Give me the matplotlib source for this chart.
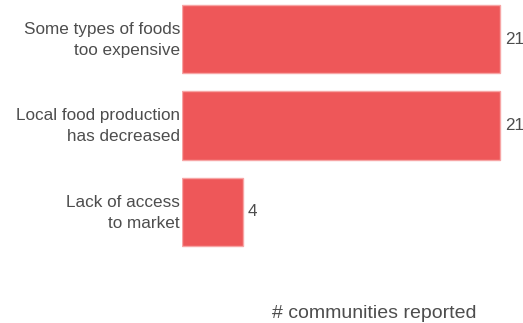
import matplotlib.pyplot as plt
import matplotlib.transforms as mtransforms

categories = ["Some types of foods\ntoo expensive",
              "Local food production\nhas decreased",
              "Lack of access\nto market"]
values = [21, 21, 4]

plt.rcParams['font.family'] = ['Liberation Sans', 'DejaVu Sans']

fig = plt.figure(figsize=(5.23, 3.23), dpi=100)
ax = fig.add_axes([182/523, 33/323, 341/523, 290/323])

pos = list(range(len(values)))
ax.barh(pos, values, height=0.79, color='#ee5759', edgecolor='#f7a5a5', linewidth=1)

for p, v in zip(pos, values):
    ax.text(v + 0.35, p, str(v), va='center', ha='left', fontsize=12.3, color='#4d4d4d')

# category labels, nudged to sit like the original
lab_tr = ax.get_yaxis_transform() + mtransforms.ScaledTranslation(-2/100, -1/100, fig.dpi_scale_trans)
for p, c in zip(pos, categories):
    ax.text(0, p, c, ha='right', va='center', fontsize=12.3, color='#4d4d4d',
            linespacing=1.5, transform=lab_tr)

ax.set_xlim(0, 22.52)
ax.set_ylim(2.902, -0.451)
ax.set_yticks([])
ax.set_xticks([])
for s in ax.spines.values():
    s.set_visible(False)

fig.text(374.5/523, 9/323, "# communities reported", ha='center', va='center',
         fontsize=14, color='#4d4d4d')

fig.savefig('out.png', dpi=100)
